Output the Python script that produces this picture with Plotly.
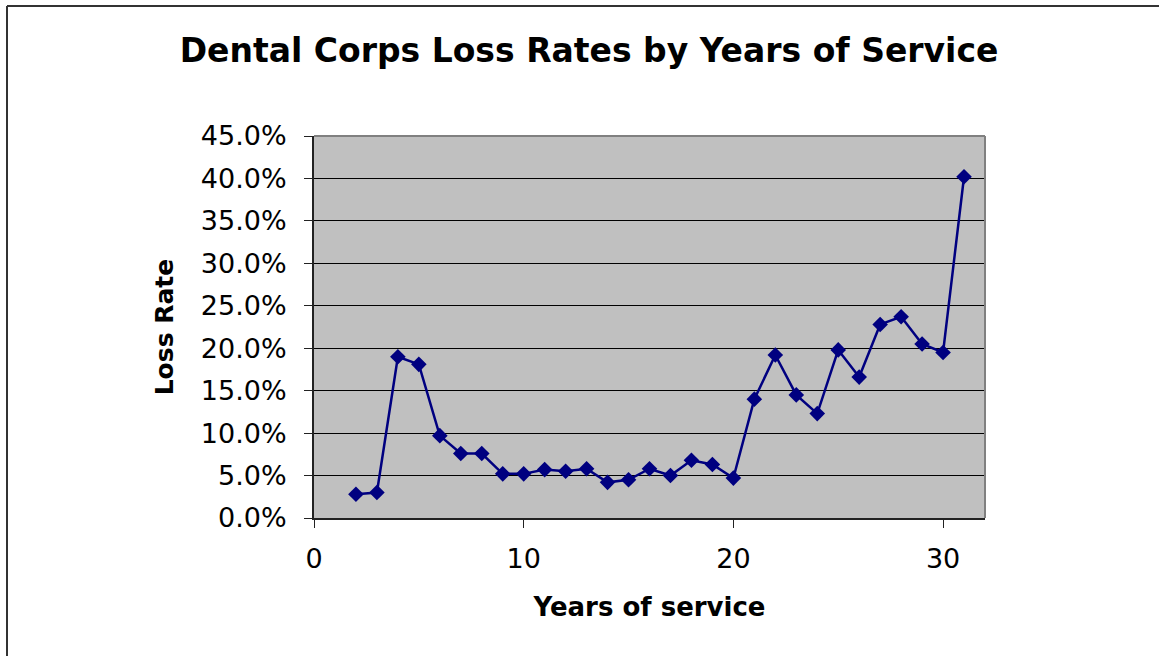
import plotly.graph_objects as go

years = list(range(2, 32))
loss_rate = [0.028, 0.030, 0.190, 0.181, 0.097, 0.076, 0.076, 0.052, 0.052, 0.057,
             0.055, 0.058, 0.042, 0.045, 0.058, 0.050, 0.068, 0.063, 0.047, 0.140,
             0.192, 0.145, 0.123, 0.198, 0.166, 0.228, 0.237, 0.205, 0.195, 0.402]

title_text = "Dental Corps Loss Rates by Years of Service"
x_title = "Years of service"
y_title = "Loss Rate"

W, H = 1159, 656
L, R, T, B = 314, 985, 136, 518

fig = go.Figure()
fig.add_trace(go.Scatter(
    x=years, y=loss_rate, mode="lines+markers",
    line=dict(color="#000080", width=2.5),
    marker=dict(symbol="diamond", size=12, color="#000080"),
    showlegend=False, hoverinfo="x+y",
))

def px_x(p):
    return (p - L) / (R - L)

def px_y(p):
    return (B - p) / (B - T)

shapes = [
    # plot-area gray border top/right
    dict(type="line", xref="paper", yref="paper", x0=0, x1=1, y0=1, y1=1,
         line=dict(color="#808080", width=2)),
    dict(type="line", xref="paper", yref="paper", x0=1, x1=1, y0=0, y1=1,
         line=dict(color="#808080", width=2)),
    # outer chart border (top and left)
    dict(type="line", xref="paper", yref="paper", x0=px_x(7), x1=px_x(W + 5),
         y0=px_y(6), y1=px_y(6), line=dict(color="#333333", width=2)),
    dict(type="line", xref="paper", yref="paper", x0=px_x(7), x1=px_x(7),
         y0=px_y(6), y1=px_y(H + 5), line=dict(color="#333333", width=2)),
]

fig.update_layout(
    width=W, height=H,
    margin=dict(l=L, r=W - R, t=T, b=H - B, autoexpand=False),
    paper_bgcolor="white",
    plot_bgcolor="#C0C0C0",
    font=dict(family="DejaVu Sans", color="black"),
    title=dict(text=title_text, x=589 / W, xanchor="center", xref="container",
               y=1 - 50 / H, yanchor="middle", yref="container",
               font=dict(family="DejaVu Sans", size=33, weight="bold", color="black")),
    shapes=shapes,
    xaxis=dict(
        range=[0, 32], tickmode="linear", tick0=0, dtick=10,
        showgrid=False, zeroline=False,
        showline=True, linecolor="#222222", linewidth=2,
        ticks="outside", ticklen=8, tickcolor="#222222", tickwidth=1,
        tickfont=dict(size=27, color="black"),
        ticklabelstandoff=8,
        title=dict(text=x_title, standoff=24,
                   font=dict(size=26, weight="bold", color="black")),
    ),
    yaxis=dict(
        range=[0, 0.45], tickmode="linear", tick0=0, dtick=0.05,
        tickformat=".1%",
        showgrid=True, gridcolor="black", gridwidth=1,
        zeroline=False,
        showline=True, linecolor="#222222", linewidth=2,
        ticks="outside", ticklen=8, tickcolor="#222222", tickwidth=1,
        tickfont=dict(size=27, color="black"),
        ticklabelstandoff=12,
        title=dict(text=y_title, standoff=20,
                   font=dict(size=25, weight="bold", color="black")),
    ),
)

fig.write_html("out.html")
